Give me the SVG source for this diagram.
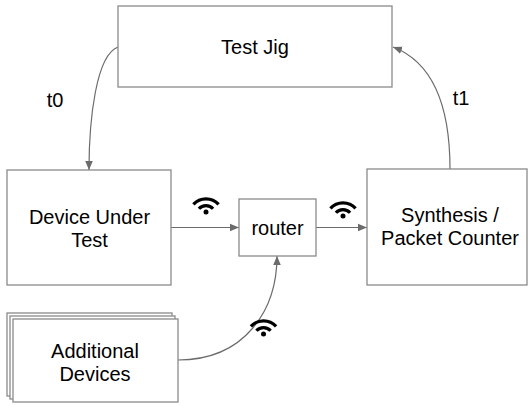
<svg xmlns="http://www.w3.org/2000/svg" width="529" height="406" viewBox="0 0 529 406">
<defs>
<style>
.box{fill:#fff;stroke:#8a8a8a;stroke-width:1.3}
.lbl{font-family:"Liberation Sans",Arial,sans-serif;font-size:20px;fill:#000;text-anchor:middle}
.con{fill:none;stroke:#6b6b6b;stroke-width:1.2}
.wifi path{fill:none;stroke:#000;stroke-width:3.2;stroke-linecap:butt}
</style>
<marker id="ah" viewBox="0 0 10 10" refX="10" refY="5" markerWidth="9" markerHeight="9" markerUnits="userSpaceOnUse" orient="auto">
<path d="M0,0.8 L10,5 L0,9.2 Z" fill="#6b6b6b"/>
</marker>
<g id="wifiIcon" class="wifi">
<path d="M-12.6,-7.6 A17,17 0 0 1 12.6,-7.6"/>
<path d="M-7.1,-3.2 A9.5,9.5 0 0 1 7.1,-3.2"/>
<circle cx="0" cy="0" r="2.5" fill="#000"/>
</g>
</defs>
<rect width="529" height="406" fill="#fff"/>
<g id="connectors">
<path class="con" d="M118,47 C96,55 89,120 89,170" marker-end="url(#ah)"/>
<path class="con" d="M450,169 C450,105 432,62 393,47" marker-end="url(#ah)"/>
<path class="con" d="M171,227.5 L239,227.5" marker-end="url(#ah)"/>
<path class="con" d="M316,227.5 L367,227.5" marker-end="url(#ah)"/>
<path class="con" d="M178,360 C245,360 277,310 277,256" marker-end="url(#ah)"/>
</g>
<g id="test-jig">
<rect class="box" x="118" y="6" width="274" height="81"/>
<text class="lbl" x="255" y="54">Test Jig</text>
</g>
<g id="label-t0"><text class="lbl" x="55" y="107">t0</text></g>
<g id="label-t1"><text class="lbl" x="461" y="105">t1</text></g>
<g id="device-under-test">
<rect class="box" x="7" y="170" width="164" height="115"/>
<text class="lbl" x="89.5" y="223.5">Device Under</text>
<text class="lbl" x="89.5" y="247">Test</text>
</g>
<g id="router">
<rect class="box" x="239" y="199" width="77" height="57"/>
<text class="lbl" x="277.5" y="234.5">router</text>
</g>
<g id="synthesis">
<rect class="box" x="367" y="169" width="160" height="116"/>
<text class="lbl" x="450" y="221.5">Synthesis /</text>
<text class="lbl" x="450" y="245">Packet Counter</text>
</g>
<g id="additional-devices">
<rect class="box" x="7" y="313" width="165" height="83"/>
<rect class="box" x="10" y="316" width="165" height="83"/>
<rect class="box" x="13" y="319" width="165" height="83"/>
<text class="lbl" x="95" y="357.5">Additional</text>
<text class="lbl" x="95" y="380.5">Devices</text>
</g>
<g id="wifi-icons">
<use href="#wifiIcon" x="206" y="212"/>
<use href="#wifiIcon" x="343" y="216"/>
<use href="#wifiIcon" x="263.5" y="334"/>
</g>
</svg>
